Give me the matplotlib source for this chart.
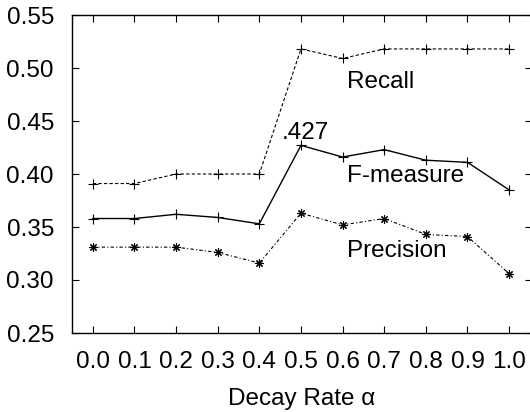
import matplotlib
matplotlib.use("Agg")
import matplotlib.pyplot as plt
import numpy as np

plt.rcParams['font.family'] = ['Liberation Sans', 'DejaVu Sans']
plt.rcParams['font.size'] = 17.5

# 衰减率
alpha = [0.0, 0.1, 0.2, 0.3, 0.4, 0.5, 0.6, 0.7, 0.8, 0.9, 1.0]
recall = [0.391, 0.391, 0.400, 0.400, 0.400, 0.518, 0.509, 0.518, 0.518, 0.518, 0.518]
fmeasure = [0.358, 0.358, 0.362, 0.359, 0.353, 0.427, 0.416, 0.423, 0.413, 0.411, 0.385]
precision = [0.331, 0.331, 0.331, 0.326, 0.316, 0.363, 0.352, 0.358, 0.343, 0.341, 0.306]

fig = plt.figure(figsize=(5.3, 4.12), dpi=100)
# 坐标区位置 (像素换算)
ax = fig.add_axes([72 / 530, 1 - 333 / 412, 460 / 530, 318 / 412])

ax.plot(alpha, recall, color='black', lw=0.8, ls=(0, (3, 2)),
        marker='+', ms=7, mew=0.8)
ax.plot(alpha, fmeasure, color='black', lw=1.0, ls='-',
        marker='+', ms=7, mew=0.8)
ax.plot(alpha, precision, color='black', lw=0.8, ls=(0, (3, 2, 1, 2)),
        marker=(8, 2, 0), ms=6, mew=0.8)

ax.set_xlim(-0.05, 1.055)
ax.set_ylim(0.25, 0.55)
ax.set_xticks(alpha)
ax.set_xticklabels(['{:.1f}'.format(a) for a in alpha])
ax.set_yticks(np.arange(0.25, 0.551, 0.05))
ax.set_yticklabels(['{:.2f}'.format(v) for v in np.arange(0.25, 0.551, 0.05)])
ax.tick_params(direction='in', length=5, width=0.8, top=True, right=True)
ax.tick_params(axis='x', pad=13)
ax.tick_params(axis='y', pad=13)
ax.spines['right'].set_visible(False)
for s in ['left', 'top', 'bottom']:
    ax.spines[s].set_linewidth(1.0)

ax.set_xlabel('Decay Rate α', labelpad=11)

# 曲线标注
ax.text(0.611, 0.481, 'Recall', ha='left', va='baseline')
ax.text(0.611, 0.392, 'F-measure', ha='left', va='baseline')
ax.text(0.611, 0.322, 'Precision', ha='left', va='baseline')
ax.text(0.455, 0.433, '.427', ha='left', va='baseline')

fig.savefig('out.png', dpi=100)
